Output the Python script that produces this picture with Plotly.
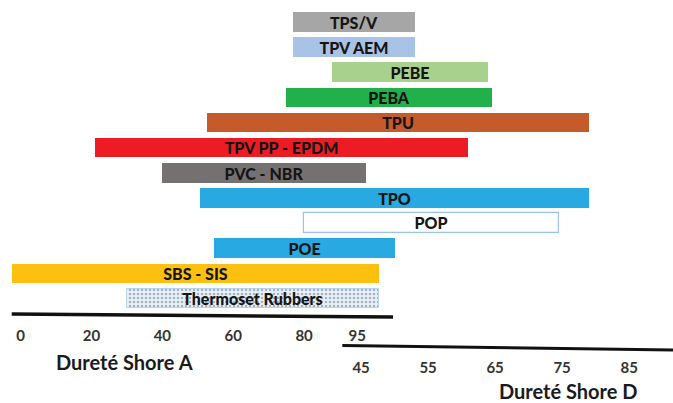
import plotly.graph_objects as go

# Materials, top to bottom, with hardness ranges (start on Shore A, end on Shore D)
materials = ["TPS/V", "TPV AEM", "PEBE", "PEBA", "TPU", "TPV PP - EPDM",
             "PVC - NBR", "TPO", "POP", "POE", "SBS - SIS", "Thermoset Rubbers"]
start_shore_a = [77, 77, 88, 75, 52.5, 21, 40, 50.5, 80, 54.5, -2.5, 30]
end_shore_d = [53, 53, 64, 64.5, 79, 61, 45.7, 79, 74.5, 50, 47.7, 47.7]
colors = ["#a6a6a6", "#a9c3e7", "#a9d18e", "#22b04b", "#c55a2a", "#ed1c24",
          "#767171", "#29a9e1", "#ffffff", "#29a9e1", "#fdc010", "#e3edf8"]

shore_a_ticks = [0, 20, 40, 60, 80, 95]
shore_d_ticks = [45, 55, 65, 75, 85]

# Combined hardness scale expressed in Shore A units; Shore D is stretched
# and joined just past Shore A 95.
A_RANGE = [-5.81, 184.1]
D_JOIN = 96.08      # Shore A position of Shore D 45
D_STRETCH = 1.891   # Shore A units per Shore D unit


def d_to_a(d):
    return D_JOIN + (d - 45) * D_STRETCH


D_RANGE = [45 + (A_RANGE[0] - D_JOIN) / D_STRETCH,
           45 + (A_RANGE[1] - D_JOIN) / D_STRETCH]

ends = [d_to_a(d) for d in end_shore_d]
lengths = [e - s for s, e in zip(start_shore_a, ends)]

FONT = "Lato"

line_colors = ["rgba(0,0,0,0)"] * len(materials)
line_widths = [0] * len(materials)
pattern_shapes = [""] * len(materials)
for i, m in enumerate(materials):
    if m == "POP":
        line_colors[i] = "#9dc3e6"
        line_widths[i] = 1.2
    if m == "Thermoset Rubbers":
        line_colors[i] = "#b9d2ec"
        line_widths[i] = 1
        pattern_shapes[i] = "."

fig = go.Figure()
fig.add_trace(go.Bar(
    y=materials,
    x=lengths,
    base=start_shore_a,
    orientation="h",
    width=0.78,
    marker=dict(
        color=colors,
        line=dict(color=line_colors, width=line_widths),
        pattern=dict(shape=pattern_shapes, fillmode="overlay",
                     fgcolor="#c4d8ee", size=4, solidity=0.2),
    ),
    text=materials,
    textposition="inside",
    insidetextanchor="middle",
    textangle=0,
    constraintext="none",
    textfont=dict(family=FONT, size=16, color="#151515", weight=900),
    hoverinfo="skip",
    cliponaxis=False,
))

# invisible trace so the Shore D axis is drawn
fig.add_trace(go.Scatter(x=[shore_d_ticks[0]], y=[materials[0]], xaxis="x2",
                         mode="markers", marker=dict(opacity=0),
                         hoverinfo="skip", showlegend=False))

n = len(materials)
H = 403
top_px, bottom_px = 22, 298.5
step = (bottom_px - top_px) / (n - 1)

fig.update_layout(
    width=673, height=403,
    margin=dict(l=0, r=0, t=0, b=0),
    paper_bgcolor="white", plot_bgcolor="white",
    showlegend=False,
    bargap=0,
    xaxis=dict(
        range=A_RANGE, anchor="free", position=1 - 325 / H,
        tickmode="array", tickvals=shore_a_ticks,
        ticks="", showgrid=False, zeroline=False, showline=False,
        tickfont=dict(family=FONT, size=15, color="#333333", weight="bold"),
    ),
    xaxis2=dict(
        range=D_RANGE, overlaying="x", anchor="free", position=1 - 357 / H,
        side="bottom",
        tickmode="array", tickvals=shore_d_ticks,
        ticks="", showgrid=False, zeroline=False, showline=False,
        tickfont=dict(family=FONT, size=15, color="#333333", weight="bold"),
    ),
    yaxis=dict(
        type="category", categoryarray=materials,
        range=[n - 1 + (H - bottom_px) / step, -top_px / step],
        domain=[0, 1],
        showticklabels=False, showgrid=False, zeroline=False, showline=False,
    ),
    shapes=[
        dict(type="line", xref="x", yref="paper",
             x0=-2.5, x1=105.1, y0=1 - 314 / H, y1=1 - 317 / H,
             line=dict(color="#111111", width=3.5)),
        dict(type="line", xref="x2", yref="paper",
             x0=42.2, x1=D_RANGE[1], y0=1 - 345.5 / H, y1=1 - 350 / H,
             line=dict(color="#111111", width=3)),
    ],
    annotations=[
        dict(text="Dureté Shore A", xref="paper", yref="paper",
             x=54 / 673, y=1 - 362 / H, xanchor="left", yanchor="middle",
             showarrow=False,
             font=dict(family=FONT, size=20, color="#1a1a1a", weight="bold")),
        dict(text="Dureté Shore D", xref="paper", yref="paper",
             x=497 / 673, y=1 - 391 / H, xanchor="left", yanchor="middle",
             showarrow=False,
             font=dict(family=FONT, size=20, color="#1a1a1a", weight="bold")),
    ],
)

fig.write_html("out.html")
